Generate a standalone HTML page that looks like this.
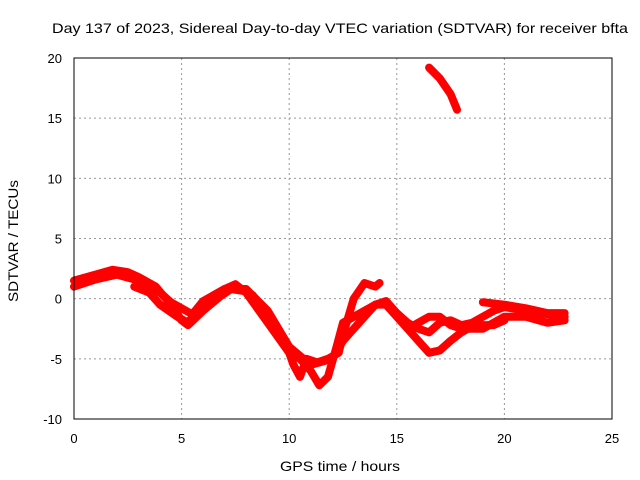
<!DOCTYPE html>
<html><head><meta charset="utf-8"><style>
body{margin:0;background:#fff;}
svg{display:block;font-family:"Liberation Sans",sans-serif;}
</style></head><body>
<svg id="c" width="640" height="480" xmlns="http://www.w3.org/2000/svg">
<rect width="640" height="480" fill="#fff"/>
<text x="52" y="33" font-size="14" textLength="576" lengthAdjust="spacingAndGlyphs">Day 137 of 2023, Sidereal Day-to-day VTEC variation (SDTVAR) for receiver bfta</text>
<text x="280" y="471" font-size="14" textLength="120" lengthAdjust="spacingAndGlyphs">GPS time / hours</text>
<text transform="translate(18,302) rotate(-90)" font-size="14" textLength="122" lengthAdjust="spacingAndGlyphs">SDTVAR / TECUs</text>
<g id="grid"></g>
<g id="ticks"></g>
<g id="series"></g>
<rect x="74" y="58" width="538" height="361" fill="none" stroke="#000" stroke-width="1"/>
</svg>
<script>
const xTicks=[0,5,10,15,20,25];
const yTicks=[-10,-5,0,5,10,15,20];
const trackA=[[0,1.5],[1,2.0],[1.8,2.4],[2.5,2.2],[3,1.8],[3.8,1.0],[4.5,-0.5],[5,-1.8],[5.3,-2.2],[6,-1.0],[6.8,0.2],[7.3,0.8],[8,0.6],[8.3,0.3],[9,-1.5],[9.8,-3.5],[10.2,-5.5],[10.5,-6.5],[10.8,-5],[11.3,-5.3],[11.8,-5],[12.3,-4.5],[12.5,-3],[13,0],[13.5,1.3],[14,1.0],[14.2,1.3]];
const trackB=[[0,1.0],[1,1.6],[2,2.0],[3,1.5],[4,0.5],[4.5,-0.3],[5.5,-1.3],[6,-0.2],[7,0.8],[7.5,1.2],[8,0.5],[9,-2],[10,-4.5],[10.5,-5],[11,-6],[11.4,-7.2],[11.8,-6.5],[12.2,-4],[12.5,-2],[13,-1.5],[13.5,-1],[14,-0.5],[14.5,-0.5],[15,-1.5],[15.5,-2.5],[16,-3.5],[16.5,-4.5],[17,-4.3],[17.5,-3.5],[18,-2.8],[18.5,-2.3],[19,-2.2],[19.5,-2.2],[20,-1.8]];
const trackC=[[2.8,1.0],[3.5,0.5],[4,-0.5],[4.8,-1.5],[5.3,-2.0],[5.8,-0.8],[6.5,0.3],[7,0.8],[8,0.8],[9,-1],[10,-4],[11,-5.5],[12,-5],[12.5,-3.5],[13,-2.5],[13.5,-1.5],[14,-0.5],[14.5,-0.2],[15,-1.2],[15.5,-2],[16,-2.5],[16.5,-2.8],[17,-2],[17.5,-1.8],[18,-2.2],[18.5,-2],[19,-1.5],[19.5,-1],[20,-0.7],[21,-1],[22,-1.3],[22.8,-1.5]];
const trackD=[[15.5,-2.5],[16,-2],[16.5,-1.5],[17,-1.5],[17.5,-2.2],[18,-2.5],[19,-2.5],[20,-1.5],[21,-1.5],[22,-2],[22.8,-1.8]];
const trackE=[[19,-0.3],[20,-0.5],[21,-0.8],[22,-1.2],[22.8,-1.2]];
const trackF=[[16.5,19.2],[17,18.3],[17.5,17],[17.8,15.7]];
const tracks=[trackA,trackB,trackC,trackD,trackE,trackF];
const X=v=>74+v*(538/25), Y=v=>58+(20-v)*(361/30);
const NS='http://www.w3.org/2000/svg';
function mk(t,a,p){const e=document.createElementNS(NS,t);for(const k in a)e.setAttribute(k,a[k]);p.appendChild(e);return e;}
const g=document.getElementById('grid'),tk=document.getElementById('ticks'),s=document.getElementById('series');
xTicks.forEach(v=>{
 if(v>0&&v<25){const l=mk('line',{x1:X(v),x2:X(v),y1:58,y2:419,stroke:'#999','stroke-dasharray':'2,3'},g);
 
 }
 const t=mk('text',{x:X(v),y:443,'text-anchor':'middle','font-size':13},tk);t.textContent=v;
 
 
});
yTicks.forEach(v=>{
 if(v>-10&&v<20){const l=mk('line',{x1:74,x2:612,y1:Y(v),y2:Y(v),stroke:'#999','stroke-dasharray':'2,3'},g);
 
 }
 const t=mk('text',{x:62,y:Y(v)+5,'text-anchor':'end','font-size':13},tk);t.textContent=v;
 
 
});
tracks.forEach((tr,i)=>{
 const p=mk('polyline',{points:tr.map(d=>X(d[0])+','+Y(d[1])).join(' '),fill:'none',stroke:'#f00','stroke-width':8,'stroke-linejoin':'round','stroke-linecap':'round'},s);
 
 
});
</script>
</body></html>
